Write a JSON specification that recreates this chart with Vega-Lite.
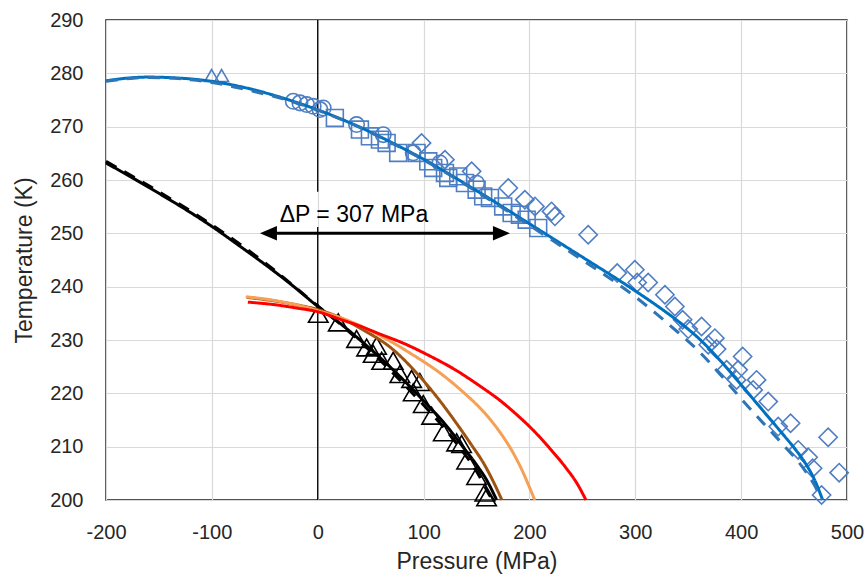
{
  "$schema": "https://vega.github.io/schema/vega-lite/v6.json",
  "width": 741,
  "height": 480,
  "autosize": {"type": "none"},
  "padding": {"left": 106, "top": 20, "right": 19, "bottom": 74},
  "background": "white",
  "config": {
    "font": "Liberation Sans",
    "view": {"stroke": "#1a1a1a", "strokeWidth": 1.5},
    "axis": {
      "labelFont": "Liberation Sans",
      "titleFont": "Liberation Sans",
      "labelFontSize": 20,
      "titleFontSize": 23,
      "titleFontWeight": "normal",
      "labelColor": "#262626",
      "titleColor": "#262626",
      "labelFlush": false,
      "labelOverlap": false,
      "ticks": false,
      "domain": false,
      "grid": true,
      "gridColor": "#D9D9D9",
      "gridWidth": 1.2
    }
  },
  "datasets": {
    "curves": [
      {"s": "blueSolid", "P": -200, "T": 278.6}, {"s": "blueSolid", "P": -180, "T": 279.1}, {"s": "blueSolid", "P": -160, "T": 279.3}, {"s": "blueSolid", "P": -140, "T": 279.2}, {"s": "blueSolid", "P": -120, "T": 278.95}, {"s": "blueSolid", "P": -100, "T": 278.5}, {"s": "blueSolid", "P": -80, "T": 277.8}, {"s": "blueSolid", "P": -60, "T": 276.9}, {"s": "blueSolid", "P": -40, "T": 275.8}, {"s": "blueSolid", "P": -20, "T": 274.55}, {"s": "blueSolid", "P": 0, "T": 273.15}, {"s": "blueSolid", "P": 20, "T": 271.6}, {"s": "blueSolid", "P": 40, "T": 269.9}, {"s": "blueSolid", "P": 60, "T": 268.0}, {"s": "blueSolid", "P": 80, "T": 266.0}, {"s": "blueSolid", "P": 100, "T": 263.9}, {"s": "blueSolid", "P": 120, "T": 261.6}, {"s": "blueSolid", "P": 140, "T": 259.2}, {"s": "blueSolid", "P": 160, "T": 256.8}, {"s": "blueSolid", "P": 180, "T": 254.3}, {"s": "blueSolid", "P": 200, "T": 251.8}, {"s": "blueSolid", "P": 220, "T": 249.3}, {"s": "blueSolid", "P": 240, "T": 246.8}, {"s": "blueSolid", "P": 260, "T": 244.3}, {"s": "blueSolid", "P": 280, "T": 241.8}, {"s": "blueSolid", "P": 300, "T": 239.2}, {"s": "blueSolid", "P": 320, "T": 236.5}, {"s": "blueSolid", "P": 340, "T": 233.6}, {"s": "blueSolid", "P": 360, "T": 230.3}, {"s": "blueSolid", "P": 380, "T": 226.2}, {"s": "blueSolid", "P": 400, "T": 221.6}, {"s": "blueSolid", "P": 420, "T": 216.9}, {"s": "blueSolid", "P": 440, "T": 212.2}, {"s": "blueSolid", "P": 450, "T": 209.8}, {"s": "blueSolid", "P": 460, "T": 207.1}, {"s": "blueSolid", "P": 470, "T": 203.5}, {"s": "blueSolid", "P": 477, "T": 200.0},
      {"s": "blueDash", "P": -200, "T": 278.5}, {"s": "blueDash", "P": -160, "T": 279.2}, {"s": "blueDash", "P": -120, "T": 278.8}, {"s": "blueDash", "P": -100, "T": 278.3}, {"s": "blueDash", "P": -80, "T": 277.5}, {"s": "blueDash", "P": -60, "T": 276.6}, {"s": "blueDash", "P": -40, "T": 275.6}, {"s": "blueDash", "P": -20, "T": 274.4}, {"s": "blueDash", "P": 0, "T": 273.1}, {"s": "blueDash", "P": 40, "T": 269.8}, {"s": "blueDash", "P": 80, "T": 265.9}, {"s": "blueDash", "P": 120, "T": 261.5}, {"s": "blueDash", "P": 160, "T": 256.6}, {"s": "blueDash", "P": 200, "T": 251.5}, {"s": "blueDash", "P": 240, "T": 246.3}, {"s": "blueDash", "P": 280, "T": 241.0}, {"s": "blueDash", "P": 300, "T": 238.1}, {"s": "blueDash", "P": 320, "T": 234.9}, {"s": "blueDash", "P": 340, "T": 231.5}, {"s": "blueDash", "P": 360, "T": 227.9}, {"s": "blueDash", "P": 380, "T": 223.6}, {"s": "blueDash", "P": 400, "T": 219.0}, {"s": "blueDash", "P": 420, "T": 214.6}, {"s": "blueDash", "P": 440, "T": 210.3}, {"s": "blueDash", "P": 460, "T": 205.6}, {"s": "blueDash", "P": 470, "T": 202.5}, {"s": "blueDash", "P": 476, "T": 200.0},
      {"s": "blackSolid", "P": -200, "T": 263.2}, {"s": "blackSolid", "P": -175, "T": 260.4}, {"s": "blackSolid", "P": -150, "T": 257.5}, {"s": "blackSolid", "P": -125, "T": 254.5}, {"s": "blackSolid", "P": -100, "T": 251.3}, {"s": "blackSolid", "P": -75, "T": 247.8}, {"s": "blackSolid", "P": -50, "T": 244.2}, {"s": "blackSolid", "P": -25, "T": 240.4}, {"s": "blackSolid", "P": 0, "T": 236.3}, {"s": "blackSolid", "P": 20, "T": 233.3}, {"s": "blackSolid", "P": 40, "T": 230.0}, {"s": "blackSolid", "P": 60, "T": 226.5}, {"s": "blackSolid", "P": 80, "T": 222.7}, {"s": "blackSolid", "P": 100, "T": 218.6}, {"s": "blackSolid", "P": 120, "T": 214.3}, {"s": "blackSolid", "P": 137, "T": 210.0}, {"s": "blackSolid", "P": 150, "T": 206.6}, {"s": "blackSolid", "P": 160, "T": 203.6}, {"s": "blackSolid", "P": 169, "T": 200.0},
      {"s": "blackDash", "P": -200, "T": 263.5}, {"s": "blackDash", "P": -150, "T": 257.8}, {"s": "blackDash", "P": -100, "T": 251.6}, {"s": "blackDash", "P": -50, "T": 244.5}, {"s": "blackDash", "P": 0, "T": 236.4}, {"s": "blackDash", "P": 20, "T": 233.2}, {"s": "blackDash", "P": 40, "T": 229.7}, {"s": "blackDash", "P": 60, "T": 226.0}, {"s": "blackDash", "P": 80, "T": 222.0}, {"s": "blackDash", "P": 100, "T": 217.8}, {"s": "blackDash", "P": 120, "T": 213.4}, {"s": "blackDash", "P": 135, "T": 209.6}, {"s": "blackDash", "P": 150, "T": 205.4}, {"s": "blackDash", "P": 162, "T": 201.0}, {"s": "blackDash", "P": 165, "T": 200.0},
      {"s": "brown", "P": -67, "T": 238.0}, {"s": "brown", "P": -40, "T": 237.3}, {"s": "brown", "P": -20, "T": 236.6}, {"s": "brown", "P": 0, "T": 235.7}, {"s": "brown", "P": 20, "T": 234.3}, {"s": "brown", "P": 43, "T": 231.9}, {"s": "brown", "P": 70, "T": 228.4}, {"s": "brown", "P": 93.5, "T": 223.8}, {"s": "brown", "P": 115, "T": 218.7}, {"s": "brown", "P": 131, "T": 214.4}, {"s": "brown", "P": 145, "T": 210.4}, {"s": "brown", "P": 157, "T": 206.8}, {"s": "brown", "P": 166, "T": 203.4}, {"s": "brown", "P": 174, "T": 200.0},
      {"s": "orange", "P": -68, "T": 238.1}, {"s": "orange", "P": -50, "T": 237.7}, {"s": "orange", "P": -30, "T": 237.0}, {"s": "orange", "P": -10, "T": 236.1}, {"s": "orange", "P": 0, "T": 235.5}, {"s": "orange", "P": 20, "T": 234.3}, {"s": "orange", "P": 43, "T": 232.4}, {"s": "orange", "P": 70, "T": 229.6}, {"s": "orange", "P": 90, "T": 227.2}, {"s": "orange", "P": 115, "T": 223.9}, {"s": "orange", "P": 137, "T": 220.3}, {"s": "orange", "P": 155, "T": 216.9}, {"s": "orange", "P": 165, "T": 214.6}, {"s": "orange", "P": 175, "T": 211.9}, {"s": "orange", "P": 185, "T": 208.7}, {"s": "orange", "P": 193, "T": 205.6}, {"s": "orange", "P": 200, "T": 202.4}, {"s": "orange", "P": 205, "T": 200.0},
      {"s": "red", "P": -66, "T": 237.1}, {"s": "red", "P": -40, "T": 236.6}, {"s": "red", "P": -20, "T": 236.0}, {"s": "red", "P": 0, "T": 235.3}, {"s": "red", "P": 21, "T": 233.9}, {"s": "red", "P": 40, "T": 232.6}, {"s": "red", "P": 59, "T": 231.1}, {"s": "red", "P": 82, "T": 229.3}, {"s": "red", "P": 106, "T": 227.0}, {"s": "red", "P": 130, "T": 224.4}, {"s": "red", "P": 153, "T": 221.4}, {"s": "red", "P": 172, "T": 218.7}, {"s": "red", "P": 188, "T": 216.0}, {"s": "red", "P": 204, "T": 213.0}, {"s": "red", "P": 220, "T": 209.5}, {"s": "red", "P": 235, "T": 205.9}, {"s": "red", "P": 245, "T": 203.1}, {"s": "red", "P": 253.4, "T": 200.0}
    ],
    "points": [
      {"s": "blueTri", "P": -100.2, "T": 279.6}, {"s": "blueTri", "P": -90.8, "T": 279.6},
      {"s": "blueCircle", "P": -23.1, "T": 274.76}, {"s": "blueCircle", "P": -16.8, "T": 274.46}, {"s": "blueCircle", "P": -10.5, "T": 274.14}, {"s": "blueCircle", "P": -4.3, "T": 273.82}, {"s": "blueCircle", "P": 2.1, "T": 273.2}, {"s": "blueCircle", "P": 5.2, "T": 273.5}, {"s": "blueCircle", "P": 36.7, "T": 270.4}, {"s": "blueCircle", "P": 61.9, "T": 268.5}, {"s": "blueCircle", "P": 90.2, "T": 265.1}, {"s": "blueCircle", "P": 115.4, "T": 263.2}, {"s": "blueCircle", "P": 150.1, "T": 259.4},
      {"s": "blueSquare", "P": 16.2, "T": 271.64}, {"s": "blueSquare", "P": 39.9, "T": 269.45}, {"s": "blueSquare", "P": 49.3, "T": 268.19}, {"s": "blueSquare", "P": 58.8, "T": 267.57}, {"s": "blueSquare", "P": 65.1, "T": 266.95}, {"s": "blueSquare", "P": 76.0, "T": 265.07}, {"s": "blueSquare", "P": 93.4, "T": 265.07}, {"s": "blueSquare", "P": 104.4, "T": 263.5}, {"s": "blueSquare", "P": 109.1, "T": 262.26}, {"s": "blueSquare", "P": 120.2, "T": 261.32}, {"s": "blueSquare", "P": 123.3, "T": 260.38}, {"s": "blueSquare", "P": 132.7, "T": 260.68}, {"s": "blueSquare", "P": 139.1, "T": 259.44}, {"s": "blueSquare", "P": 150.1, "T": 258.19}, {"s": "blueSquare", "P": 156.3, "T": 256.93}, {"s": "blueSquare", "P": 162.7, "T": 256.63}, {"s": "blueSquare", "P": 175.2, "T": 255.05}, {"s": "blueSquare", "P": 183.2, "T": 253.81}, {"s": "blueSquare", "P": 191.0, "T": 253.49}, {"s": "blueSquare", "P": 197.4, "T": 252.56}, {"s": "blueSquare", "P": 208.3, "T": 251.0},
      {"s": "blueDiamond", "P": 98.1, "T": 266.95}, {"s": "blueDiamond", "P": 120.2, "T": 263.81}, {"s": "blueDiamond", "P": 145.4, "T": 261.62}, {"s": "blueDiamond", "P": 180.0, "T": 258.51}, {"s": "blueDiamond", "P": 195.7, "T": 256.31}, {"s": "blueDiamond", "P": 205.2, "T": 255.05}, {"s": "blueDiamond", "P": 220.9, "T": 254.11}, {"s": "blueDiamond", "P": 224.1, "T": 253.18}, {"s": "blueDiamond", "P": 255.5, "T": 249.74}, {"s": "blueDiamond", "P": 282.9, "T": 242.55}, {"s": "blueDiamond", "P": 299.6, "T": 243.17}, {"s": "blueDiamond", "P": 301.8, "T": 240.79}, {"s": "blueDiamond", "P": 312.2, "T": 240.79}, {"s": "blueDiamond", "P": 328.0, "T": 238.48}, {"s": "blueDiamond", "P": 337.4, "T": 236.28}, {"s": "blueDiamond", "P": 344.7, "T": 233.79}, {"s": "blueDiamond", "P": 350.0, "T": 232.04}, {"s": "blueDiamond", "P": 362.6, "T": 232.53}, {"s": "blueDiamond", "P": 368.9, "T": 229.1}, {"s": "blueDiamond", "P": 375.2, "T": 230.35}, {"s": "blueDiamond", "P": 376.8, "T": 228.29}, {"s": "blueDiamond", "P": 386.3, "T": 224.4}, {"s": "blueDiamond", "P": 397.2, "T": 224.4}, {"s": "blueDiamond", "P": 401.4, "T": 226.9}, {"s": "blueDiamond", "P": 395.7, "T": 222.52}, {"s": "blueDiamond", "P": 411.4, "T": 220.64}, {"s": "blueDiamond", "P": 414.6, "T": 222.52}, {"s": "blueDiamond", "P": 425.6, "T": 218.45}, {"s": "blueDiamond", "P": 435.0, "T": 213.76}, {"s": "blueDiamond", "P": 446.7, "T": 214.4}, {"s": "blueDiamond", "P": 453.9, "T": 209.39}, {"s": "blueDiamond", "P": 463.3, "T": 208.02}, {"s": "blueDiamond", "P": 467.5, "T": 205.95}, {"s": "blueDiamond", "P": 476.0, "T": 200.94}, {"s": "blueDiamond", "P": 482.2, "T": 211.77}, {"s": "blueDiamond", "P": 492.6, "T": 205.13},
      {"s": "blackTri", "P": 0.5, "T": 234.9}, {"s": "blackTri", "P": 19.4, "T": 233.3}, {"s": "blackTri", "P": 36.7, "T": 230.2}, {"s": "blackTri", "P": 46.2, "T": 228.6}, {"s": "blackTri", "P": 55.6, "T": 228.9}, {"s": "blackTri", "P": 52.4, "T": 227.4}, {"s": "blackTri", "P": 60.4, "T": 226.1}, {"s": "blackTri", "P": 71.3, "T": 226.1}, {"s": "blackTri", "P": 77.6, "T": 223.6}, {"s": "blackTri", "P": 88.7, "T": 222.7}, {"s": "blackTri", "P": 96.5, "T": 222.1}, {"s": "blackTri", "P": 90.2, "T": 220.2}, {"s": "blackTri", "P": 99.7, "T": 218.0}, {"s": "blackTri", "P": 107.6, "T": 215.8}, {"s": "blackTri", "P": 118.6, "T": 212.7}, {"s": "blackTri", "P": 131.2, "T": 210.8}, {"s": "blackTri", "P": 135.9, "T": 210.5}, {"s": "blackTri", "P": 140.7, "T": 207.4}, {"s": "blackTri", "P": 150.1, "T": 204.5}, {"s": "blackTri", "P": 157.9, "T": 201.4}, {"s": "blackTri", "P": 159.5, "T": 200.5}
    ],
    "zeroLine": [
      {"P": 0, "T": 290, "T2": 257.8},
      {"P": 0, "T": 251.2, "T2": 200}
    ],
    "arrowLine": [{"P": -50, "P2": 177, "T": 250}],
    "arrowHeads": [
      {"dir": "left", "P": -54.6, "T": 250},
      {"dir": "right", "P": 181.6, "T": 250}
    ],
    "annot": [{"P": 34.2, "T": 252.2, "label": "ΔP = 307 MPa"}]
  },
  "encoding": {
    "x": {
      "field": "P", "type": "quantitative", "title": "Pressure (MPa)",
      "scale": {"domain": [-200, 500], "nice": false, "zero": false},
      "axis": {"values": [-200, -100, 0, 100, 200, 300, 400, 500], "labelExpr": "'' + datum.value", "labelPadding": 22, "titlePadding": 8}
    },
    "y": {
      "field": "T", "type": "quantitative", "title": "Temperature (K)",
      "scale": {"domain": [200, 290], "nice": false, "zero": false},
      "axis": {"values": [200, 210, 220, 230, 240, 250, 260, 270, 280, 290], "labelPadding": 23, "titlePadding": 13}
    }
  },
  "layer": [
    {
      "data": {"name": "zeroLine"},
      "mark": {"type": "rule", "color": "#000000", "strokeWidth": 1.3},
      "encoding": {
        "y2": {"field": "T2"}
      }
    },
    {
      "data": {"name": "points"},
      "mark": {"type": "point", "filled": false, "strokeWidth": 1.6, "opacity": 1},
      "encoding": {
        "shape": {"field": "s", "type": "nominal", "legend": null,
          "scale": {"domain": ["blueTri", "blueCircle", "blueSquare", "blueDiamond", "blackTri"], "range": ["triangle-up", "circle", "square", "diamond", "triangle-up"]}},
        "color": {"field": "s", "type": "nominal", "legend": null,
          "scale": {"domain": ["blueTri", "blueCircle", "blueSquare", "blueDiamond", "blackTri"], "range": ["#4F7EC2", "#4F7EC2", "#4F7EC2", "#4F7EC2", "#000000"]}},
        "size": {"field": "s", "type": "nominal", "legend": null,
          "scale": {"domain": ["blueTri", "blueCircle", "blueSquare", "blueDiamond", "blackTri"], "range": [190, 380, 200, 120, 140]}}
      }
    },
    {
      "data": {"name": "curves"},
      "mark": {"type": "line", "strokeWidth": 3, "interpolate": "monotone"},
      "encoding": {
        "order": {"field": "P", "type": "quantitative"},
        "color": {"field": "s", "type": "nominal", "legend": null,
          "scale": {"domain": ["blueDash", "blueSolid", "blackDash", "blackSolid", "brown", "orange", "red"], "range": ["#2E75B6", "#0070C0", "#000000", "#000000", "#9E5410", "#F6A056", "#FF0000"]}},
        "strokeDash": {"field": "s", "type": "nominal", "legend": null,
          "scale": {"domain": ["blueDash", "blueSolid", "blackDash", "blackSolid", "brown", "orange", "red"], "range": [[12, 9], [1, 0], [12, 9], [1, 0], [1, 0], [1, 0], [1, 0]]}}
      }
    },
    {
      "data": {"name": "arrowLine"},
      "mark": {"type": "rule", "color": "#000000", "strokeWidth": 3},
      "encoding": {
        "x2": {"field": "P2"}
      }
    },
    {
      "data": {"name": "arrowHeads"},
      "mark": {"type": "point", "filled": true, "color": "#000000", "size": 289, "opacity": 1, "strokeWidth": 0},
      "encoding": {
        "shape": {"field": "dir", "type": "nominal", "legend": null,
          "scale": {"domain": ["left", "right"], "range": ["M0,0L2,-0.85L2,0.85Z", "M0,0L-2,-0.85L-2,0.85Z"]}}
      }
    },
    {
      "data": {"name": "annot"},
      "mark": {"type": "text", "fontSize": 23, "font": "Liberation Sans", "color": "#000000", "align": "center", "baseline": "alphabetic"},
      "encoding": {"text": {"field": "label"}}
    }
  ],
  "resolve": {"scale": {"color": "independent", "shape": "independent", "size": "independent", "strokeDash": "independent"}}
}
